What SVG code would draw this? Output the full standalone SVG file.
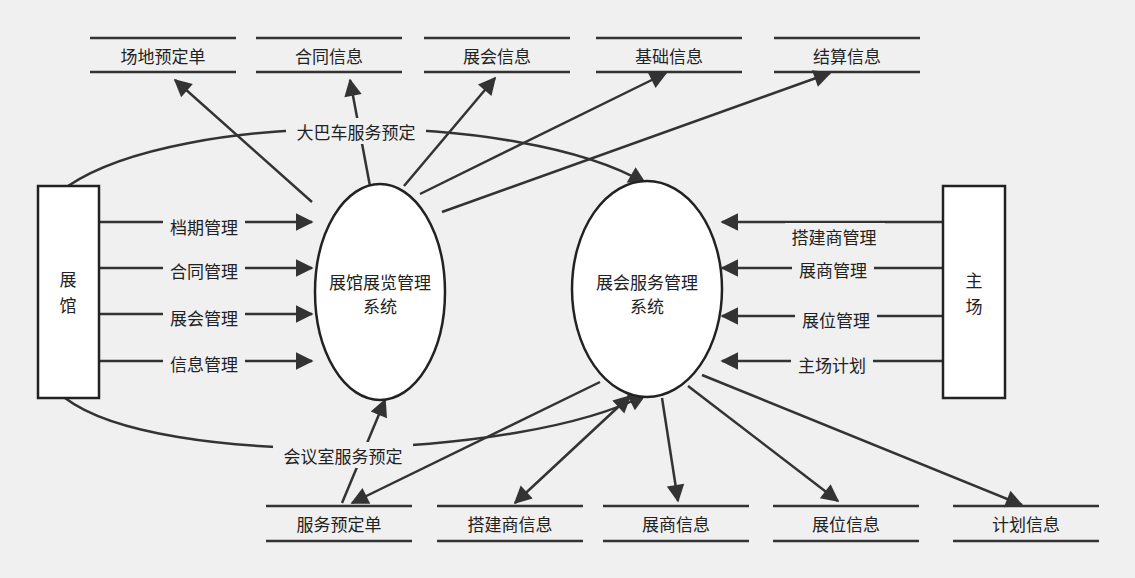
<svg xmlns="http://www.w3.org/2000/svg" width="1135" height="578" viewBox="0 0 1135 578">
<style>
text{font-family:"Noto Sans CJK SC","Noto Sans",sans-serif;font-size:17px;fill:#222;text-anchor:middle;dominant-baseline:central}
.s{stroke:#333;stroke-width:2.5}
.n{fill:#fff;stroke:#222;stroke-width:2.5}
.c{stroke:#333;stroke-width:2.5;fill:none;marker-end:url(#a)}
.lb{fill:#f0f0f0}
</style>
<defs>
<marker id="a" viewBox="0 0 10 10" refX="9" refY="5" markerWidth="8" markerHeight="8" markerUnits="userSpaceOnUse" orient="auto-start-reverse" style="overflow:visible"><path d="M0,0L10,5L0,10z" fill="#333" transform="scale(2.2) translate(-5,-2.7)"/></marker>
</defs>
<rect width="1135" height="578" fill="#f0f0f0"/>
<g id="stores">
<g id="s1"><path class="s" d="M90,38H236M90,72H236"/><text x="163" y="55">场地预定单</text></g>
<g id="s2"><path class="s" d="M256,38H402M256,72H402"/><text x="329" y="55">合同信息</text></g>
<g id="s3"><path class="s" d="M424,38H570M424,72H570"/><text x="497" y="55">展会信息</text></g>
<g id="s4"><path class="s" d="M596,38H742M596,72H742"/><text x="669" y="55">基础信息</text></g>
<g id="s5"><path class="s" d="M774,38H920M774,72H920"/><text x="847" y="55">结算信息</text></g>
<g id="s6"><path class="s" d="M266,506H412M266,541H412"/><text x="339" y="523">服务预定单</text></g>
<g id="s7"><path class="s" d="M437,506H583M437,541H583"/><text x="510" y="523">搭建商信息</text></g>
<g id="s8"><path class="s" d="M603,506H749M603,541H749"/><text x="676" y="523">展商信息</text></g>
<g id="s9"><path class="s" d="M773,506H919M773,541H919"/><text x="846" y="523">展位信息</text></g>
<g id="s10"><path class="s" d="M953,506H1099M953,541H1099"/><text x="1026" y="523">计划信息</text></g>
</g>
<g id="connectors">
<path class="c" d="M99,222H312"/><path class="c" d="M99,268H312"/><path class="c" d="M99,314H312"/><path class="c" d="M99,361H312"/>
<path class="c" d="M943,222H722"/><path class="c" d="M943,268H722"/><path class="c" d="M943,316H722"/><path class="c" d="M943,361H722"/>
<path class="c" d="M312,202L175,80"/><path class="c" d="M370,186L350,80"/><path class="c" d="M404,186L495,78"/><path class="c" d="M420,194L666,73"/><path class="c" d="M442,212L830,73"/>
<path class="c" d="M68,186C180,110 520,110 645,183"/>
<path class="c" d="M65,398C160,470 520,460 645,395"/>
<path class="c" d="M342,503L385,400"/><path class="c" d="M600,382L352,503"/>
<path class="c" style="marker-start:url(#a)" d="M515,503L630,396"/>
<path class="c" d="M662,398L678,501"/><path class="c" d="M688,386L838,501"/><path class="c" d="M702,375L1022,505"/>
</g>
<g id="labels">
<rect class="lb" x="163" y="213" width="82" height="26"/><text x="204" y="226">档期管理</text>
<rect class="lb" x="163" y="258" width="82" height="26"/><text x="204" y="270">合同管理</text>
<rect class="lb" x="163" y="305" width="82" height="26"/><text x="204" y="317">展会管理</text>
<rect class="lb" x="163" y="351" width="82" height="26"/><text x="204" y="363">信息管理</text>
<rect class="lb" x="785" y="223" width="100" height="26"/><text x="834" y="236">搭建商管理</text>
<rect class="lb" x="792" y="257" width="82" height="26"/><text x="833" y="269">展商管理</text>
<rect class="lb" x="795" y="306" width="82" height="26"/><text x="836" y="319">展位管理</text>
<rect class="lb" x="791" y="351" width="82" height="26"/><text x="832" y="364">主场计划</text>
<rect class="lb" x="286" y="118" width="140" height="26"/><text x="356" y="131">大巴车服务预定</text>
<rect class="lb" x="273" y="442" width="140" height="26"/><text x="343" y="455">会议室服务预定</text>
</g>
<g id="zhanguan"><rect class="n" x="38" y="186" width="61" height="212"/><text x="68" y="278">展</text><text x="68" y="304">馆</text></g>
<g id="zhuchang"><rect class="n" x="943" y="186" width="62" height="212"/><text x="974" y="279">主</text><text x="974" y="305">场</text></g>
<g id="sys1"><ellipse class="n" cx="380" cy="292" rx="65" ry="108"/><text x="380" y="281">展馆展览管理</text><text x="380" y="305">系统</text></g>
<g id="sys2"><ellipse class="n" cx="647" cy="289" rx="75" ry="108"/><text x="647" y="281">展会服务管理</text><text x="647" y="305">系统</text></g>
</svg>
